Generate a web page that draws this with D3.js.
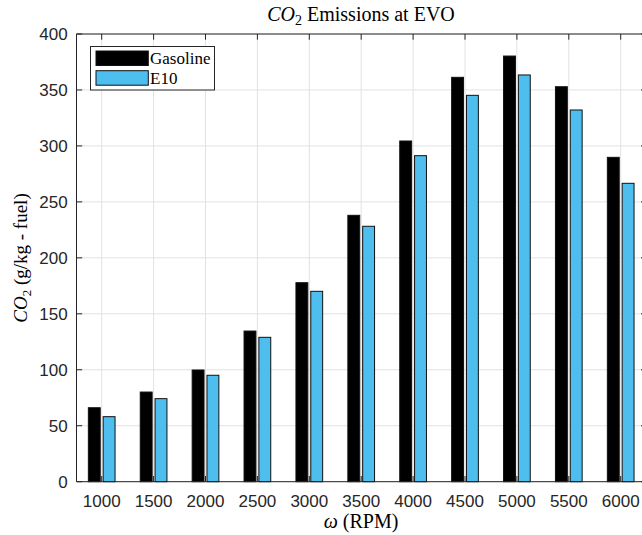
<!DOCTYPE html>
<html>
<head>
<meta charset="utf-8">
<script src="https://cdn.jsdelivr.net/npm/d3@7"></script>
<style>
  html, body { margin: 0; padding: 0; background: #fff; }
  svg { display: block; }
</style>
</head>
<body>
<svg id="chart" width="642" height="535"></svg>
<script>
// ---- data ----
const categories = ["1000","1500","2000","2500","3000","3500","4000","4500","5000","5500","6000"];
const seriesNames = ["Gasoline", "E10"];
const gasoline = [66.1, 80.1, 99.8, 134.6, 177.8, 238.0, 304.4, 361.3, 380.3, 352.9, 289.8];
const e10      = [58.1, 74.2, 95.1, 129.0, 170.1, 228.2, 291.3, 345.2, 363.4, 332.1, 266.6];
const yTicks   = [0, 50, 100, 150, 200, 250, 300, 350, 400];
const seriesColors = ["#000000", "#4DBEEE"];

// ---- layout ----
const svg = d3.select("#chart");
const L = 76.5, R = 646.7, T = 34, B = 481.7;
const axisCol = "#262626";
const gridCol = "#e2e2e2";
const tickLen = 5.7;

const x = d3.scaleBand().domain(categories).range([75.75, 646.65]).paddingInner(0).paddingOuter(0);
const y = d3.scaleLinear().domain([0, 400]).range([B, T]);
const bw = x.bandwidth();
const sub = d3.scaleBand().domain(seriesNames).range([-0.2855 * bw, 0.2855 * bw]).paddingInner(0);
const barW = 0.229 * bw;

// grid
const grid = svg.append("g");
grid.selectAll("line.gx").data(categories).join("line")
  .attr("x1", d => x(d) + bw / 2).attr("x2", d => x(d) + bw / 2)
  .attr("y1", T).attr("y2", B)
  .attr("stroke", gridCol).attr("stroke-width", 1);
grid.selectAll("line.gy").data(yTicks).join("line")
  .attr("x1", L).attr("x2", R)
  .attr("y1", d => y(d)).attr("y2", d => y(d))
  .attr("stroke", gridCol).attr("stroke-width", 1);

// bars
const seriesData = [gasoline, e10];
seriesData.forEach((vals, si) => {
  const name = seriesNames[si];
  svg.append("g").selectAll("rect").data(vals).join("rect")
    .attr("x", (d, i) => x(categories[i]) + bw / 2 + sub(name) + sub.bandwidth() / 2 - barW / 2)
    .attr("y", d => y(d))
    .attr("width", barW)
    .attr("height", d => y(0) - y(d))
    .attr("fill", seriesColors[si])
    .attr("stroke", "#111")
    .attr("stroke-width", 1);
});

// axes box lines
const ax = svg.append("g").attr("stroke", axisCol).attr("stroke-width", 1).attr("fill", "none");
ax.append("line").attr("x1", L).attr("x2", L).attr("y1", T).attr("y2", B);
ax.append("line").attr("x1", L).attr("x2", R).attr("y1", B).attr("y2", B);
ax.append("line").attr("x1", L).attr("x2", R).attr("y1", T).attr("y2", T);
ax.append("line").attr("x1", R).attr("x2", R).attr("y1", T).attr("y2", B);
// ticks
categories.forEach(c => {
  const cx = x(c) + bw / 2;
  ax.append("line").attr("x1", cx).attr("x2", cx).attr("y1", B).attr("y2", B - tickLen);
  ax.append("line").attr("x1", cx).attr("x2", cx).attr("y1", T).attr("y2", T + tickLen);
});
yTicks.forEach(t => {
  ax.append("line").attr("x1", L).attr("x2", L + tickLen).attr("y1", y(t)).attr("y2", y(t));
  ax.append("line").attr("x1", R).attr("x2", R - tickLen).attr("y1", y(t)).attr("y2", y(t));
});

// tick labels
const tickFont = "'Liberation Sans', Arial, sans-serif";
svg.append("g").selectAll("text").data(categories).join("text")
  .attr("x", d => x(d) + bw / 2).attr("y", 507.3)
  .attr("text-anchor", "middle")
  .attr("font-family", tickFont).attr("font-size", 17).attr("fill", axisCol)
  .text(d => d);
svg.append("g").selectAll("text").data(yTicks).join("text")
  .attr("x", 67.7).attr("y", d => y(d)).attr("dy", "0.36em")
  .attr("text-anchor", "end")
  .attr("font-family", tickFont).attr("font-size", 17).attr("fill", axisCol)
  .text(d => d);

// labels (serif, LaTeX-like)
const serif = "'Liberation Serif', 'Times New Roman', serif";
const title = svg.append("text").attr("x", 361).attr("y", 21).attr("text-anchor", "middle")
  .attr("font-family", serif).attr("font-size", 20).attr("fill", "#000");
title.append("tspan").attr("font-style", "italic").text("CO");
title.append("tspan").attr("font-size", 14).attr("dy", 4).text("2");
title.append("tspan").attr("dy", -4).text(" Emissions at EVO");

const ylab = svg.append("text").attr("transform", "translate(27,258) rotate(-90)")
  .attr("text-anchor", "middle")
  .attr("font-family", serif).attr("font-size", 19).attr("fill", "#000");
ylab.append("tspan").attr("font-style", "italic").text("CO");
ylab.append("tspan").attr("font-size", 13).attr("dy", 4).text("2");
ylab.append("tspan").attr("dy", -4).text(" (g/kg - fuel)");

const xlab = svg.append("text").attr("x", 361).attr("y", 528).attr("text-anchor", "middle")
  .attr("font-family", serif).attr("font-size", 20).attr("fill", "#000");
xlab.append("tspan").attr("font-style", "italic").text("ω");
xlab.append("tspan").text(" (RPM)");

// legend
const lg = svg.append("g");
lg.append("rect").attr("x", 90.5).attr("y", 46.5).attr("width", 124).attr("height", 43.5)
  .attr("fill", "#fff").attr("stroke", axisCol).attr("stroke-width", 1);
seriesNames.forEach((n, i) => {
  const yy = 51 + i * 19.7;
  lg.append("rect").attr("x", 96).attr("y", yy).attr("width", 52.3).attr("height", 14.5)
    .attr("fill", seriesColors[i]).attr("stroke", "#111").attr("stroke-width", 1);
  lg.append("text").attr("x", 150).attr("y", yy + 13)
    .attr("font-family", serif).attr("font-size", 17).attr("fill", "#000").text(n);
});
</script>
</body>
</html>
